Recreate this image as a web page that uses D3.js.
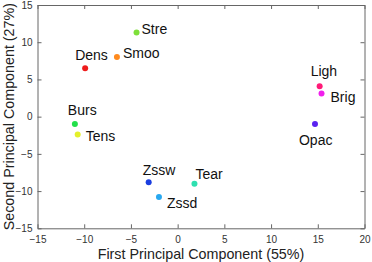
<!DOCTYPE html>
<html><head><meta charset="utf-8">
<script src="https://cdn.jsdelivr.net/npm/d3@7"></script>
<style>body{margin:0;background:#fff}svg{display:block}</style>
</head><body>
<svg id="c" width="372" height="262"></svg>
<script>
const names = ["Stre","Smoo","Dens","Burs","Tens","Zssw","Zssd","Tear","Ligh","Brig","Opac"];
const pc1 = [-4.4,-6.5,-9.9,-11.0,-10.7,-3.1,-2.0,1.8,15.2,15.4,14.7];
const pc2 = [11.3,8.0,6.5,-1.0,-2.4,-8.8,-10.8,-9.0,4.1,3.1,-1.0];
const colors = ["#7ee03a","#ff8a1e","#ee1c1c","#22e04a","#e4f02a","#1a3ee0","#28a8f0","#2ee0b0","#ff1a78","#f020ec","#5a22f0"];
const xTicks = [-15,-10,-5,0,5,10,15,20];
const yTicks = [-15,-10,-5,0,5,10,15];
const xLabel = "First Principal Component (55%)";
const yLabel = "Second Principal Component (27%)";
// label offsets (dx, dy, anchor) relative to point
const labelPos = {Stre:[5,1,"start"],Smoo:[6,1,"start"],Dens:[-10,-8,"start"],Burs:[-7,-9,"start"],
  Tens:[8,6,"start"],Zssw:[-6,-7,"start"],Zssd:[8,11,"start"],Tear:[1,-5,"start"],
  Ligh:[-9,-10,"start"],Brig:[9,8,"start"],Opac:[-16,21,"start"]};

const svg = d3.select("#c");
const L=37.5,R=364.5,T=5,B=228.3;
const x = d3.scaleLinear().domain([-15,20]).range([L,R]);
const y = d3.scaleLinear().domain([-15,15]).range([B,T]);
const font = "Liberation Sans, Arial, sans-serif";
const axCol = "#666";

const gx = svg.append("g").attr("transform",`translate(0,${B})`)
  .call(d3.axisBottom(x).tickValues(xTicks).tickSizeInner(-4).tickSizeOuter(0).tickPadding(8));
const gy = svg.append("g").attr("transform",`translate(${L},0)`)
  .call(d3.axisLeft(y).tickValues(yTicks).tickSizeInner(-4).tickSizeOuter(0).tickPadding(5));
const gt = svg.append("g").attr("transform",`translate(0,${T})`)
  .call(d3.axisTop(x).tickValues(xTicks).tickSizeInner(-4).tickSizeOuter(0).tickFormat(""));
const gr = svg.append("g").attr("transform",`translate(${R},0)`)
  .call(d3.axisRight(y).tickValues(yTicks).tickSizeInner(-4).tickSizeOuter(0).tickFormat(""));
[gx,gy,gt,gr].forEach(g=>{
  g.selectAll(".domain").attr("stroke",axCol);
  g.selectAll(".tick line").attr("stroke",axCol);
  g.selectAll("text").attr("font-family",font).attr("font-size",10).attr("fill","#333");
});

const pts = names.map((n,i)=>({n,x:pc1[i],y:pc2[i],c:colors[i]}));
svg.append("g").selectAll("circle").data(pts).join("circle")
  .attr("cx",d=>x(d.x)).attr("cy",d=>y(d.y)).attr("r",3).attr("fill",d=>d.c);
svg.append("g").selectAll("text").data(pts).join("text")
  .attr("x",d=>x(d.x)+labelPos[d.n][0]).attr("y",d=>y(d.y)+labelPos[d.n][1])
  .attr("text-anchor",d=>labelPos[d.n][2])
  .attr("font-family",font).attr("font-size",14).attr("fill","#111").text(d=>d.n);

svg.append("text").attr("x",(L+R)/2).attr("y",259).attr("text-anchor","middle")
  .attr("font-family",font).attr("font-size",14.3).attr("fill","#222").text(xLabel);
svg.append("text").attr("transform",`translate(13.5,${(T+B)/2}) rotate(-90)`).attr("text-anchor","middle")
  .attr("font-family",font).attr("font-size",14.3).attr("fill","#222").text(yLabel);
</script>
</body></html>
